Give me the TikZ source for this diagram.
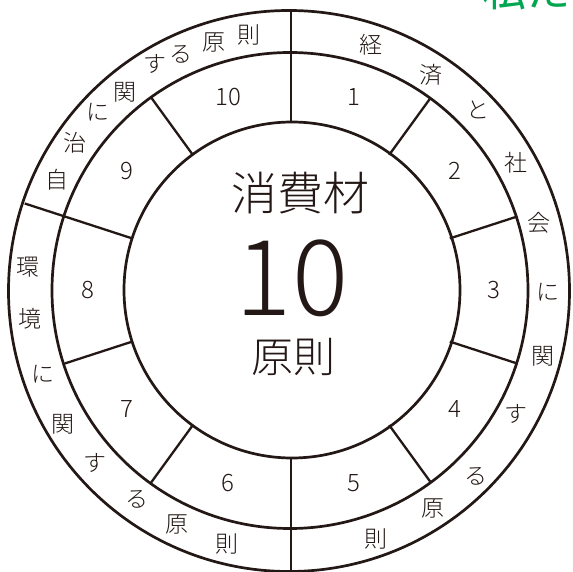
\documentclass[tikz,border=0pt]{standalone}
\usepackage{fontspec}
\setmainfont{Noto Sans CJK JP}[UprightFont=* Light]
\newfontfamily\regjp{Noto Sans CJK JP}
\definecolor{ink}{HTML}{231815}
\definecolor{grn}{HTML}{00A650}
\begin{document}
\begin{tikzpicture}[x=1pt,y=1pt,line width=2.3pt,
  ringch/.style={font=\fontsize{23}{23}\selectfont,text=ink,inner sep=0pt},
  secnum/.style={font=\fontsize{24}{24}\selectfont,text=ink,inner sep=0pt},
  bigch/.style={text=ink,inner sep=0pt},
  divider/.style={draw=ink,line width=2.3pt},
  ringline/.style={draw=ink,line width=2.7pt}]
\useasboundingbox (-291,-282) rectangle (281,290);
\clip (-291,-282) rectangle (281,290);
% circles
\draw[ringline] (-2,-1) circle[radius=280.5];
\draw[ringline] (-1,-0.5) circle[radius=238];
\draw[ringline] (1,0) circle[radius=168];
% dividers
\foreach \a in {54,18,-18,-54,126,198,234}
  \draw[divider] (\a:167) -- (\a:238);
\foreach \a in {90,-90,162}
  \draw[divider] (\a:167) -- (\a:280);
% sector numbers
\foreach \n in {1,...,10}{
  \pgfmathsetmacro{\ang}{108-36*\n}
  \node[secnum] (n\n) at (\ang:203) {\n};
}
% centre text
\node[bigch,font=\fontsize{46}{46}\selectfont] (t1) at (9,97) {消費材};
\node[bigch,font=\fontsize{105}{105}\selectfont] (t2) at (1,12) {10};
\node[bigch,font=\fontsize{42}{42}\selectfont] (t3) at (2,-67) {原則};
% outer ring: right
\node[ringch] (a1) at (80,245) {経};
\node[ringch] (a2) at (140,215) {済};
\node[ringch] (a3) at (187,180) {と};
\node[ringch] (a4) at (225,127) {社};
\node[ringch] (a5) at (248,67) {会};
\node[ringch] (a6) at (257,-2) {に};
\node[ringch] (a7) at (252,-66) {関};
\node[ringch] (a8) at (225,-124) {す};
\node[ringch] (a9) at (185,-186) {る};
\node[ringch] (a10) at (142,-218) {原};
\node[ringch] (a11) at (85,-249) {則};
% outer ring: lower left
\node[ringch] (b1) at (-263,23) {環};
\node[ringch] (b2) at (-261,-29) {境};
\node[ringch] (b3) at (-248,-84) {に};
\node[ringch] (b4) at (-228,-134) {関};
\node[ringch] (b5) at (-196,-173) {す};
\node[ringch] (b6) at (-154,-209) {る};
\node[ringch] (b7) at (-114,-234) {原};
\node[ringch] (b8) at (-64,-254) {則};
% outer ring: upper left
\node[ringch] (c1) at (-234,110) {自};
\node[ringch] (c2) at (-216,147) {治};
\node[ringch] (c3) at (-193,178) {に};
\node[ringch] (c4) at (-166,198) {関};
\node[ringch] (c5) at (-136,226) {す};
\node[ringch] (c6) at (-110,236) {る};
\node[ringch] (c7) at (-77,248) {原};
\node[ringch] (c8) at (-42,255) {則};
% green heading (cut off at the top edge, as in the reference)
\node[text=grn,inner sep=0pt,font=\regjp\fontsize{44}{44}\selectfont,anchor=west] (g) at (190,300) {私た};
\end{tikzpicture}
\end{document}
